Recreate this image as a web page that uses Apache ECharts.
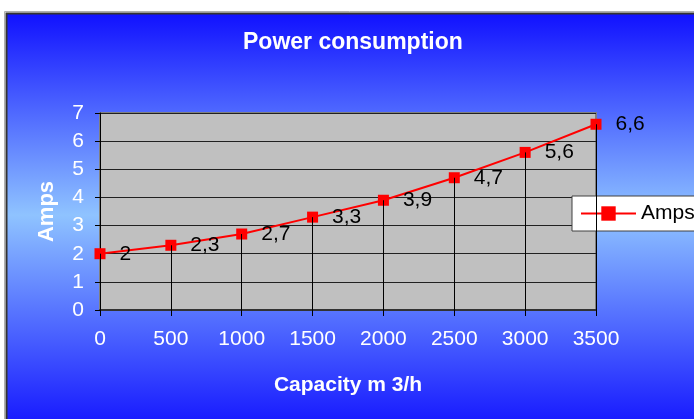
<!DOCTYPE html>
<html>
<head>
<meta charset="utf-8">
<script src="https://cdn.jsdelivr.net/npm/echarts@6/dist/echarts.min.js"></script>
<style>
html,body{margin:0;padding:0;background:#fff;overflow:hidden;}
#chart{width:694px;height:419px;}
</style>
</head>
<body>
<div id="chart"></div>
<script>
const capacity = [0, 500, 1000, 1500, 2000, 2500, 3000, 3500];
const amps = [2, 2.3, 2.7, 3.3, 3.9, 4.7, 5.6, 6.6];
const seriesName = 'Amps';
const titleText = 'Power consumption';
const xAxisName = 'Capacity m 3/h';
const yAxisName = 'Amps';

const FONT = '"Liberation Sans", Arial, sans-serif';
const chart = echarts.init(document.getElementById('chart'), null, {renderer: 'canvas'});
const pts = capacity.map((x, i) => [x, amps[i]]);
const drops = capacity.map((x, i) => [{coord: [x, 0]}, {coord: [x, amps[i]]}]);

chart.setOption({
  animation: false,
  backgroundColor: '#ffffff',
  textStyle: {fontFamily: FONT},
  graphic: [
    {type: 'rect', z: -10, silent: true,
     shape: {x: 4.5, y: 11.5, width: 720, height: 440},
     style: {fill: 'none', stroke: '#b0b0b0', lineWidth: 1}},
    {type: 'rect', z: -10, silent: true,
     shape: {x: 6.5, y: 13.5, width: 720, height: 420},
     style: {
       stroke: '#333333', lineWidth: 2,
       fill: new echarts.graphic.LinearGradient(0, 0, 0, 1, [
         {offset: 0, color: '#1010ff'},
         {offset: 0.48, color: '#8fc3ff'},
         {offset: 1, color: '#1010ff'}
       ])
     }}
  ],
  title: {
    text: titleText,
    left: 243, top: 31, padding: 0,
    textStyle: {color: '#ffffff', fontSize: 23, fontWeight: 'bold', fontFamily: FONT}
  },
  legend: {
    left: 572, top: 196,
    padding: [7, 80, 7, 8],
    backgroundColor: '#ffffff',
    borderColor: '#404040', borderWidth: 1,
    itemWidth: 55, itemHeight: 18, itemGap: 7,
    textStyle: {color: '#000', fontSize: 21, fontFamily: FONT},
    data: [seriesName]
  },
  grid: {
    left: 100, right: 98, top: 113, bottom: 109,
    show: true, backgroundColor: '#c0c0c0',
    borderColor: '#808080', borderWidth: 2
  },
  xAxis: {
    type: 'value', min: 0, max: 3500, interval: 500,
    name: xAxisName, nameLocation: 'middle', nameGap: 65,
    nameTextStyle: {color: '#fff', fontSize: 21, fontWeight: 'bold', fontFamily: FONT},
    axisLine: {show: true, lineStyle: {color: '#333', width: 2}},
    axisTick: {show: true, length: 6, lineStyle: {color: '#000'}},
    axisLabel: {color: '#fff', fontSize: 21, margin: 19, fontFamily: FONT,
                formatter: v => String(v)},
    splitLine: {show: false}
  },
  yAxis: {
    type: 'value', min: 0, max: 7, interval: 1,
    name: yAxisName, nameLocation: 'middle', nameGap: 42, nameRotate: 90,
    nameTextStyle: {color: '#fff', fontSize: 22, fontWeight: 'bold', fontFamily: FONT},
    axisLine: {show: true, lineStyle: {color: '#000', width: 1}},
    axisTick: {show: true, length: 5, lineStyle: {color: '#000'}},
    axisLabel: {color: '#fff', fontSize: 21, margin: 16, fontFamily: FONT},
    splitLine: {show: true, lineStyle: {color: '#202020', width: 1}}
  },
  series: [{
    name: seriesName,
    type: 'line',
    data: pts,
    symbol: 'rect', symbolSize: 11,
    lineStyle: {color: '#ff0000', width: 2},
    itemStyle: {color: '#ff0000'},
    label: {
      show: true, position: 'right', distance: 14,
      color: '#000', fontSize: 21, fontFamily: FONT,
      formatter: p => String(p.value[1]).replace('.', ',')
    },
    markLine: {
      silent: true, symbol: 'none', animation: false,
      label: {show: false},
      lineStyle: {color: '#000', width: 1, type: 'solid'},
      data: drops
    },
    z: 3
  }]
});
</script>
</body>
</html>
